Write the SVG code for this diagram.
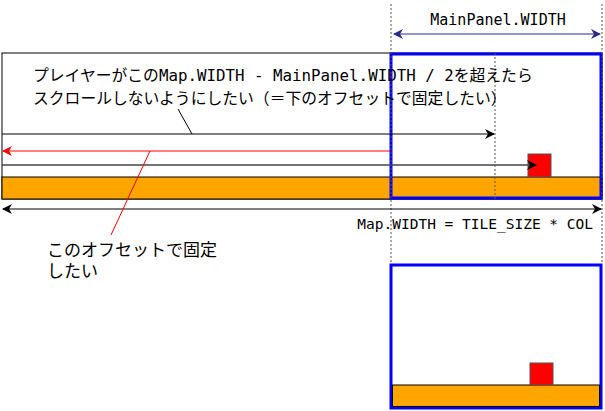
<svg xmlns="http://www.w3.org/2000/svg" width="605" height="411" viewBox="0 0 605 411">
<defs>
<style>
.t{font-family:"DejaVu Sans Mono","Noto Sans CJK JP",monospace;font-size:14px;fill:#000}
.dash{stroke:#555;stroke-width:1;stroke-dasharray:2,2;fill:none}
</style>
<marker id="ak" viewBox="0 0 10 10" refX="9" refY="5" markerWidth="10" markerHeight="10" markerUnits="userSpaceOnUse" orient="auto-start-reverse"><path d="M0,0 L10,5 L0,10 L3,5 Z" fill="#000"/></marker>
<marker id="ar" viewBox="0 0 10 10" refX="9" refY="5" markerWidth="10" markerHeight="10" markerUnits="userSpaceOnUse" orient="auto-start-reverse"><path d="M0,0 L10,5 L0,10 L3,5 Z" fill="#f00"/></marker>
<marker id="an" viewBox="0 0 10 10" refX="9" refY="5" markerWidth="10" markerHeight="10" markerUnits="userSpaceOnUse" orient="auto-start-reverse"><path d="M0,0 L10,5 L0,10 L3,5 Z" fill="#2a2a8a"/></marker>
</defs>
<rect width="605" height="411" fill="#fff"/>
<g id="map">
<rect x="2" y="53" width="600" height="146" fill="#fff" stroke="#000"/>
<rect x="2" y="177" width="600" height="22" fill="#ffa500" stroke="#000"/>
<rect x="528" y="154" width="23" height="23" fill="#f00" stroke="#555"/>
</g>
<g id="panel-top"><rect x="391" y="54" width="210" height="144" fill="none" stroke="#00f" stroke-width="3"/></g>
<g id="panel-bottom">
<rect x="391" y="265" width="210" height="143" fill="#fff" stroke="#00f" stroke-width="3"/>
<rect x="392.5" y="385" width="207" height="21.5" fill="#ffa500" stroke="#000"/>
<rect x="530" y="363" width="23" height="22" fill="#f00" stroke="#555"/>
</g>
<g id="connectors">
<line class="dash" x1="391" y1="4" x2="391" y2="264"/>
<line class="dash" x1="602" y1="4" x2="602" y2="264"/>
<line class="dash" x1="495" y1="53" x2="495" y2="199"/>
<line x1="394" y1="34" x2="600" y2="34" stroke="#2a2a8a" marker-start="url(#an)" marker-end="url(#an)"/>
<line x1="2" y1="134" x2="494" y2="134" stroke="#000" marker-end="url(#ak)"/>
<line x1="390" y1="151" x2="3" y2="151" stroke="#f00" marker-end="url(#ar)"/>
<line x1="2" y1="165" x2="536" y2="165" stroke="#444" stroke-width="1.5" marker-end="url(#ak)"/>
<line x1="3" y1="209" x2="601" y2="209" stroke="#000" marker-start="url(#ak)" marker-end="url(#ak)"/>
<line x1="178" y1="109" x2="192" y2="134" stroke="#000"/>
<line x1="150" y1="151" x2="111" y2="235" stroke="#f00"/>
</g>
<g id="labels">
<text class="t" x="498" y="25" text-anchor="middle" style="font-size:15px">MainPanel.WIDTH</text>
<text class="t" x="33" y="81" style="font-size:15.8px">プレイヤーがこのMap.WIDTH - MainPanel.WIDTH / 2を超えたら</text>
<text class="t" x="33" y="104" style="font-size:15.8px">スクロールしないようにしたい（＝下のオフセットで固定したい）</text>
<text class="t" x="593" y="229" text-anchor="end" style="font-size:14.5px">Map.WIDTH = TILE_SIZE * COL</text>
<text class="t" x="47" y="256" style="font-size:17px">このオフセットで固定</text>
<text class="t" x="47" y="277" style="font-size:17px">したい</text>
</g>
</svg>
